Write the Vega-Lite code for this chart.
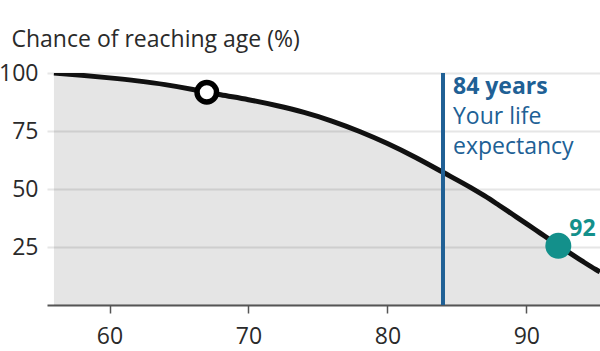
{
  "$schema": "https://vega.github.io/schema/vega-lite/v6.json",
  "width": 553,
  "height": 232,
  "autosize": {"type": "none"},
  "padding": {"left": 47, "top": 73, "right": 0, "bottom": 46},
  "config": {"view": {"stroke": null}, "font": "Open Sans"},
  "datasets": {
    "curve": [
      {"age": 56, "pct": 100},
      {"age": 58, "pct": 99.0},
      {"age": 60, "pct": 97.9},
      {"age": 62, "pct": 96.6},
      {"age": 64, "pct": 95.0},
      {"age": 66, "pct": 92.9},
      {"age": 67, "pct": 91.7},
      {"age": 68, "pct": 90.6},
      {"age": 70, "pct": 88.5},
      {"age": 72, "pct": 86.0},
      {"age": 74, "pct": 83.0},
      {"age": 76, "pct": 79.3},
      {"age": 78, "pct": 74.8},
      {"age": 80, "pct": 69.6},
      {"age": 82, "pct": 63.7},
      {"age": 84, "pct": 57.2},
      {"age": 86, "pct": 50.6},
      {"age": 87, "pct": 47.0},
      {"age": 88, "pct": 43.1},
      {"age": 89, "pct": 39.1},
      {"age": 90, "pct": 35.1},
      {"age": 91, "pct": 31.0},
      {"age": 92, "pct": 26.9},
      {"age": 93, "pct": 22.9},
      {"age": 94, "pct": 19.0},
      {"age": 95, "pct": 15.3},
      {"age": 95.3, "pct": 14.3}
    ],
    "points": [
      {"age": 67, "pct": 91.7, "kind": "current", "label": ""},
      {"age": 92.3, "pct": 25.5, "kind": "quarter", "label": "92"}
    ],
    "expectancy": [
      {"age": 84, "pct": 100, "head": "84 years", "body": "Your life\nexpectancy"}
    ]
  },
  "layer": [
    {
      "data": {"name": "curve"},
      "mark": {"type": "area", "color": "#000000", "opacity": 0.1, "interpolate": "monotone", "clip": true},
      "encoding": {
        "x": {
          "field": "age", "type": "quantitative",
          "scale": {"domain": [55.5, 95.3], "nice": false, "zero": false},
          "axis": {
            "values": [60, 70, 80, 90], "grid": false, "title": null,
            "domainColor": "#555555", "domainWidth": 2,
            "tickColor": "#555555", "tickWidth": 1.5, "tickSize": 8,
            "labelFontSize": 23, "labelColor": "#2a2a2a", "labelPadding": 12
          }
        },
        "y": {
          "field": "pct", "type": "quantitative",
          "scale": {"domain": [0, 100], "nice": false},
          "axis": {
            "values": [25, 50, 75, 100], "grid": true, "gridColor": "#e6e6e6", "gridWidth": 2,
            "domain": false, "ticks": false, "labelPadding": 9,
            "labelFontSize": 23, "labelColor": "#2a2a2a",
            "title": "Chance of reaching age (%)", "titleAngle": 0, "titleAlign": "left",
            "titleBaseline": "alphabetic", "titleX": -36, "titleY": -27,
            "titleFontSize": 23, "titleFontWeight": "normal", "titleColor": "#2a2a2a"
          }
        }
      }
    },
    {
      "data": {"name": "curve"},
      "mark": {"type": "line", "color": "#111111", "strokeWidth": 5, "interpolate": "monotone", "clip": true},
      "encoding": {
        "x": {"field": "age", "type": "quantitative"},
        "y": {"field": "pct", "type": "quantitative"}
      }
    },
    {
      "data": {"name": "expectancy"},
      "mark": {"type": "rule", "color": "#206095", "strokeWidth": 4},
      "encoding": {
        "x": {"field": "age", "type": "quantitative"}
      }
    },
    {
      "data": {"name": "expectancy"},
      "mark": {"type": "text", "color": "#206095", "fontSize": 23, "fontWeight": "bold", "align": "left", "baseline": "alphabetic", "dx": 10, "dy": 21},
      "encoding": {
        "x": {"field": "age", "type": "quantitative"},
        "y": {"field": "pct", "type": "quantitative"},
        "text": {"field": "head"}
      }
    },
    {
      "data": {"name": "expectancy"},
      "mark": {"type": "text", "color": "#206095", "fontSize": 23, "fontWeight": "normal", "align": "left", "baseline": "alphabetic", "dx": 10, "dy": 51, "lineBreak": "\n", "lineHeight": 29.5},
      "encoding": {
        "x": {"field": "age", "type": "quantitative"},
        "y": {"field": "pct", "type": "quantitative"},
        "text": {"field": "body"}
      }
    },
    {
      "data": {"name": "points"},
      "transform": [{"filter": "datum.kind === 'current'"}],
      "mark": {"type": "point", "shape": "circle", "filled": false, "fill": "#ffffff", "fillOpacity": 1, "stroke": "#000000", "strokeWidth": 5.5, "size": 380, "opacity": 1},
      "encoding": {
        "x": {"field": "age", "type": "quantitative"},
        "y": {"field": "pct", "type": "quantitative"}
      }
    },
    {
      "data": {"name": "points"},
      "transform": [{"filter": "datum.kind === 'quarter'"}],
      "mark": {"type": "circle", "color": "#13908b", "size": 676, "opacity": 1},
      "encoding": {
        "x": {"field": "age", "type": "quantitative"},
        "y": {"field": "pct", "type": "quantitative"}
      }
    },
    {
      "data": {"name": "points"},
      "transform": [{"filter": "datum.kind === 'quarter'"}],
      "mark": {"type": "text", "color": "#13908b", "fontSize": 23, "fontWeight": "bold", "align": "left", "baseline": "alphabetic", "dx": 11, "dy": -10},
      "encoding": {
        "x": {"field": "age", "type": "quantitative"},
        "y": {"field": "pct", "type": "quantitative"},
        "text": {"field": "label"}
      }
    }
  ]
}
